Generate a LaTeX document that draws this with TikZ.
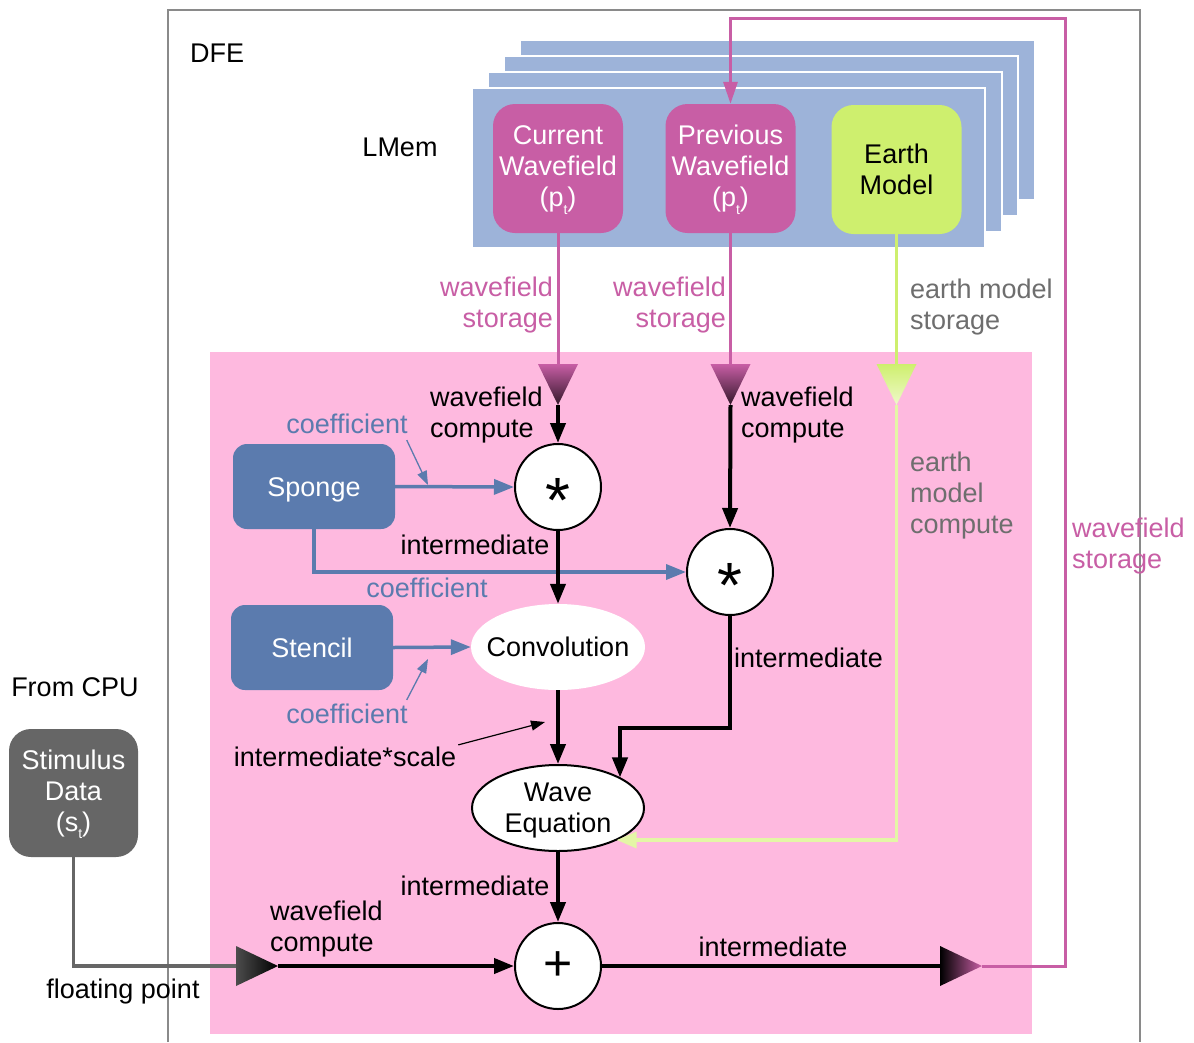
\documentclass[tikz,border=0pt]{standalone}
\usepackage{fontspec}
\setmainfont{Liberation Sans}
\usetikzlibrary{arrows.meta,shapes.geometric,calc}
\definecolor{mag}{HTML}{C85EA5}
\definecolor{pinkbg}{HTML}{FEB9DF}
\definecolor{layer}{HTML}{9DB3D9}
\definecolor{sblue}{HTML}{5B7BAE}
\definecolor{egreen}{HTML}{CEEF6E}
\definecolor{lgreen}{HTML}{E4F6A6}
\definecolor{gtxt}{HTML}{6E6E6E}
\definecolor{stim}{HTML}{666666}
\definecolor{framec}{HTML}{8A8A8A}
\newcommand{\subt}{\raisebox{-8pt}[0pt][0pt]{\fontsize{14}{14}\selectfont t}}
\begin{document}
\begin{tikzpicture}[x=1pt,y=-1pt,font=\fontsize{27}{31}\selectfont,
 lbl/.style={inner sep=0pt,align=center},
 rbox/.style={rounded corners=22pt,minimum width=130pt,minimum height=129pt,inner sep=0pt,align=center},
 bbox/.style={rounded corners=14pt,fill=sblue,text=white,minimum width=162pt,minimum height=85pt,inner sep=0pt,text height=19pt,text depth=0pt},
 op/.style={circle,draw=black,line width=2pt,fill=white,minimum size=86pt,inner sep=0pt},
 blk/.style={line width=4pt,draw=black},
 tip/.style={-{Triangle[length=20pt,width=15pt]}},
 smalltip/.style={-{Triangle[length=14pt,width=10pt]}},
 magl/.style={line width=3pt,draw=mag},
 bluel/.style={line width=3.5pt,draw=sblue},
]
\useasboundingbox (0,0) rectangle (1194,1042);
\fill[white] (0,0) rectangle (1194,1042);
\fill[pinkbg] (210,352) rectangle (1032,1034);
\draw[framec,line width=1.2pt] (168,1042) -- (168,10) -- (1140,10) -- (1140,1042);
% memory layers
\foreach \a/\b/\c/\d in {520/40/1035/200, 504/56/1018/216, 488/72/1002/232, 472/88/985/248}
  \filldraw[fill=layer,draw=white,line width=2pt] (\a,\b) rectangle (\c,\d);

% top nodes
\node[lbl,anchor=west] (dfe) at (190,53) {DFE};
\node[lbl] (lmem) at (400,147) {LMem};
\node[rbox,fill=mag,text=white] (cur) at (558,168.5) {Current\\Wavefield\\(p\subt)};
\node[rbox,fill=mag,text=white] (prev) at (730.5,168.5) {Previous\\Wavefield\\(p\subt)};
\node[rbox,fill=egreen] (earth) at (896.5,169.5) {Earth\\Model};

% triangles
\coordinate (t1a) at (558,364); \coordinate (t1) at (558,405);
\coordinate (t2a) at (730.5,364); \coordinate (t2) at (730.5,405);
\coordinate (t3a) at (896.5,364); \coordinate (t3) at (896.5,405);
\coordinate (t4a) at (236,966); \coordinate (t4) at (278,966);
\coordinate (t5a) at (940,966); \coordinate (t5) at (982,966);
\shade[top color=mag,middle color=mag,bottom color=black!75!mag] (538,364) -- (578,364) -- (558,405) -- cycle;
\shade[top color=mag,middle color=mag,bottom color=black!75!mag] (710.5,364) -- (750.5,364) -- (730.5,405) -- cycle;
\shade[top color=egreen,middle color=egreen,bottom color=lgreen!60!white] (876.5,364) -- (916.5,364) -- (896.5,405) -- cycle;
\shade[left color=black!70,right color=black] (236,946) -- (278,966) -- (236,986) -- cycle;
\shade[left color=black,right color=mag] (940,946) -- (982,966) -- (940,986) -- cycle;

% compute nodes
\node[op,font=\fontsize{64}{64}\selectfont] (m1) at (558,487) {\raisebox{-0.56em}[0pt][0pt]{*}};
\node[op,font=\fontsize{64}{64}\selectfont] (m2) at (730,572) {\raisebox{-0.56em}[0pt][0pt]{*}};
\node[op,font=\fontsize{50}{50}\selectfont] (pl) at (558,966) {+};
\node[bbox] (sponge) at (314,486.5) {Sponge};
\node[bbox] (stencil) at (312,647.5) {Stencil};
\node[ellipse,fill=white,minimum width=174pt,minimum height=86pt,inner sep=0pt] (conv) at (558,647) {\makebox[0pt]{Convolution}};
\node[ellipse,draw=black,line width=2pt,fill=white,minimum width=172pt,minimum height=86pt,inner sep=0pt] (wave) at (558,808) {};
\node[lbl] (wavet) at (558,811) {Wave\\Equation};
\node[rbox,fill=stim,text=white,minimum width=129pt,minimum height=128pt] (stim) at (73.5,793) {Stimulus\\Data\\(s\subt)};

% connectors
\draw[magl] (cur.south) -- (t1a);
\draw[magl] (prev.south) -- (t2a);
\draw[line width=3pt,egreen] (earth.south) -- (t3a);
\draw[blk,tip] (t1) -- (m1.north);
\draw[blk,tip] (t2) -- (m2.north);
\coordinate (g) at (896.5,840);
\draw[line width=3.5pt,lgreen,-{Triangle[length=20pt,width=16pt]}] (t3) -- (g) -- (g -| wave.-29);
\draw[magl,-{Triangle[length=22pt,width=14pt]}] (t5) -- (1065,966) -- (1065,18) -- (730.5,18) -- (prev.north);
\draw[bluel,tip] (sponge.east) -- (m1.west);
\draw[bluel,tip] (sponge.south) |- (m2.west);
\draw[bluel,tip] (stencil.east) -- (conv.west);
\draw[blk,tip] (m1.south) -- (conv.north);
\draw[blk,tip] (conv.south) -- (wave.north);
\coordinate (k) at (620,728);
\draw[blk,tip] (m2.south) |- (k) -- (k |- wave.26);
\draw[blk,tip] (wave.south) -- (pl.north);
\draw[blk,tip] (t4) -- (pl.west);
\draw[blk] (pl.east) -- (t5a);
\draw[line width=3.5pt,stim] (stim.south) |- (t4a);

% labels
\node[lbl,text=mag,anchor=east,align=right] (ws1) at (553,305.5) {wavefield\\storage};
\node[lbl,text=mag,anchor=east,align=right] (ws2) at (726,305.5) {wavefield\\storage};
\node[lbl,text=gtxt,anchor=west,align=left] (ems) at (910,307.5) {earth model\\storage};
\node[lbl,anchor=west,align=left] (wc1) at (430,415.5) {wavefield\\compute};
\node[lbl,anchor=west,align=left] (wc2) at (741,415.5) {wavefield\\compute};
\node[lbl,text=sblue] (co1) at (347,424) {coefficient};
\node[lbl] (im1) at (475,545) {intermediate};
\node[lbl,text=sblue] (co2) at (427,588) {coefficient};
\node[lbl,text=sblue] (co3) at (347,714) {coefficient};
\node[lbl,anchor=west] (im2) at (734,658) {intermediate};
\node[lbl,text=gtxt,anchor=west,align=left] (emc) at (910,496) {earth\\model\\compute};
\node[lbl] (isc) at (345,757) {intermediate*scale};
\node[lbl] (im3) at (475,886) {intermediate};
\node[lbl,anchor=west,align=left] (wc3) at (270,929.5) {wavefield\\compute};
\node[lbl] (im4) at (773,947) {intermediate};
\node[lbl,text=mag,anchor=west,align=left] (ws3) at (1072,546) {wavefield\\storage};
\node[lbl] (cpu) at (75,687) {From CPU};
\node[lbl] (fp) at (123,992) {floating point};

% pointers
\coordinate (p1) at (428,485);
\draw[sblue,line width=1.3pt,smalltip] ($(co1.south east)+(-1,6)$) -- (p1);
\coordinate (p2) at (428,659);
\draw[sblue,line width=1.3pt,smalltip] ($(co3.north east)+(-1,-4)$) -- (p2);
\coordinate (p3) at (545,722);
\draw[black,line width=1.2pt,smalltip] ($(isc.north east)+(2,-2)$) -- (p3);
\end{tikzpicture}
\end{document}
